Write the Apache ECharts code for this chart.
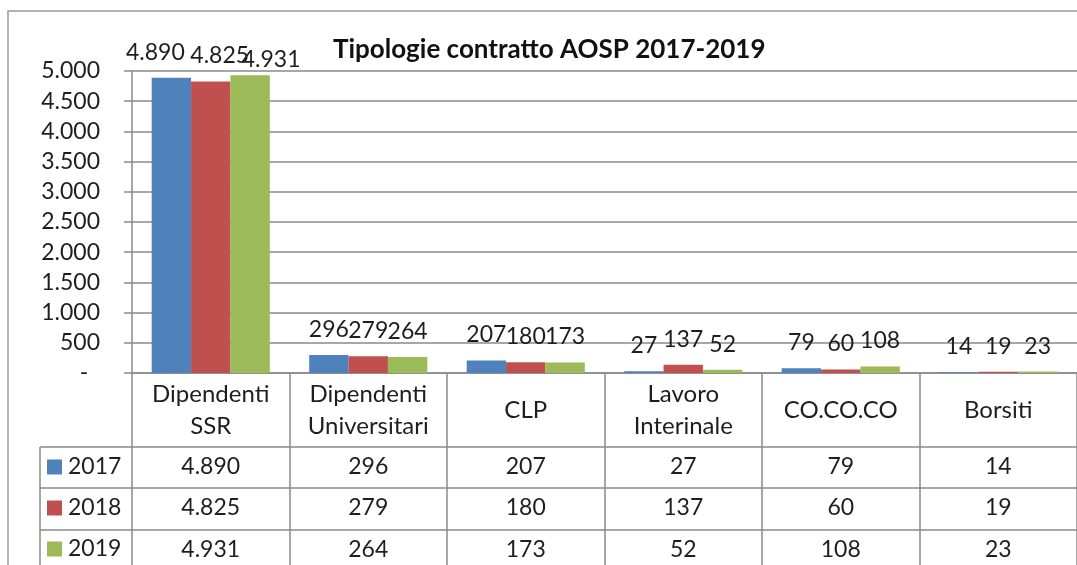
<!DOCTYPE html>
<html>
<head>
<meta charset="utf-8">
<script src="https://cdn.jsdelivr.net/npm/echarts@6/dist/echarts.min.js"></script>
<style>
html,body{margin:0;padding:0;background:#fff;}
#chart{width:1077px;height:565px;}
</style>
</head>
<body>
<div id="chart"></div>
<script>
const categories = ['Dipendenti\nSSR', 'Dipendenti\nUniversitari', 'CLP', 'Lavoro\nInterinale', 'CO.CO.CO', 'Borsiti'];
const years = ['2017', '2018', '2019'];
const values2017 = [4890, 296, 207, 27, 79, 14];
const values2018 = [4825, 279, 180, 137, 60, 19];
const values2019 = [4931, 264, 173, 52, 108, 23];
const colors = ['#4F81BD', '#C0504D', '#9BBB59'];

const FONT = 'Lato';
const FS = 23;
const TXT = '#1e1e1e';
const GRID = '#8a8a8a';
function fmt(n) {
  if (n === 0) return '-';
  return String(n).replace(/\B(?=(\d{3})+(?!\d))/g, '.');
}
const allValues = [values2017, values2018, values2019];

const chart = echarts.init(document.getElementById('chart'), null, {renderer: 'canvas'});

const baseX = {
  type: 'category',
  data: categories,
  position: 'bottom',
  gridIndex: 0,
  axisLine: {show: true, lineStyle: {color: GRID, width: 1.5}},
  splitLine: {show: false}
};

const xAxes = [
  Object.assign({}, baseX, {
    offset: 0,
    axisTick: {show: true, alignWithLabel: false, length: 74, lineStyle: {color: GRID, width: 1.5}},
    axisLabel: {fontFamily: FONT, fontSize: 24, color: TXT, lineHeight: 32, verticalAlign: 'middle', margin: 37, interval: 0}
  })
];
const rowOffsets = [74, 115, 157];
allValues.forEach((vals, i) => {
  xAxes.push(Object.assign({}, baseX, {
    offset: rowOffsets[i],
    axisTick: {show: true, alignWithLabel: false, length: 42, lineStyle: {color: GRID, width: 1.5}},
    axisLabel: {fontFamily: FONT, fontSize: FS, color: TXT, verticalAlign: 'middle', margin: 20, interval: 0,
      formatter: (v, idx) => fmt(vals[idx])}
  }));
});

// Excel nudged the crowded labels of the first group apart
const firstLabelNudge = [[-16, 0], [9, 0], [21, 10]];

const series = allValues.map((vals, i) => ({
  name: years[i],
  type: 'bar',
  xAxisIndex: 0,
  data: vals.map((v, j) => j === 0 ? {value: v, label: {offset: firstLabelNudge[i]}} : v),
  barGap: '0%',
  barCategoryGap: '25%',
  itemStyle: {color: colors[i]},
  label: {show: true, position: 'top', distance: 14, fontFamily: FONT, fontSize: FS, color: TXT, formatter: p => fmt(p.value)}
}));

const legendTops = [455, 496, 537];
const legends = years.map((y, i) => ({
  orient: 'vertical',
  left: 47, top: legendTops[i],
  padding: 0,
  itemWidth: 15, itemHeight: 15,
  icon: 'rect',
  data: [y],
  textStyle: {fontFamily: FONT, fontSize: FS, color: TXT, lineHeight: 24, padding: [0, 0, 0, 1]}
}));

const option = {
  animation: false,
  backgroundColor: '#fff',
  title: {
    text: 'Tipologie contratto AOSP 2017-2019',
    left: 333, top: 37, padding: 0,
    textStyle: {fontFamily: FONT, fontWeight: 'bold', fontSize: 26, color: '#111'}
  },
  grid: {left: 132, top: 71, width: 960, height: 302, containLabel: false},
  legend: legends,
  xAxis: xAxes,
  yAxis: {
    type: 'value',
    min: 0, max: 5000, interval: 500,
    axisLine: {show: true, lineStyle: {color: GRID, width: 1.5}},
    axisTick: {show: true, length: 8, lineStyle: {color: GRID, width: 1.5}},
    splitLine: {show: true, lineStyle: {color: GRID, width: 1.5}},
    axisLabel: {fontFamily: FONT, fontSize: FS, color: TXT, margin: 32, formatter: v => v === 0 ? '-  ' : fmt(v)}
  },
  graphic: [
    {type: 'rect', shape: {x: 8, y: 11, width: 1200, height: 800}, style: {fill: 'none', stroke: '#9a9a9a', lineWidth: 1.5}, z: -10, silent: true},
    {type: 'line', shape: {x1: 40, y1: 447, x2: 132, y2: 447}, style: {stroke: GRID, lineWidth: 1.5}},
    {type: 'line', shape: {x1: 40, y1: 488, x2: 132, y2: 488}, style: {stroke: GRID, lineWidth: 1.5}},
    {type: 'line', shape: {x1: 40, y1: 530, x2: 132, y2: 530}, style: {stroke: GRID, lineWidth: 1.5}},
    {type: 'line', shape: {x1: 40, y1: 447, x2: 40, y2: 600}, style: {stroke: GRID, lineWidth: 1.5}}
  ],
  series: series
};
chart.setOption(option);
</script>
</body>
</html>
